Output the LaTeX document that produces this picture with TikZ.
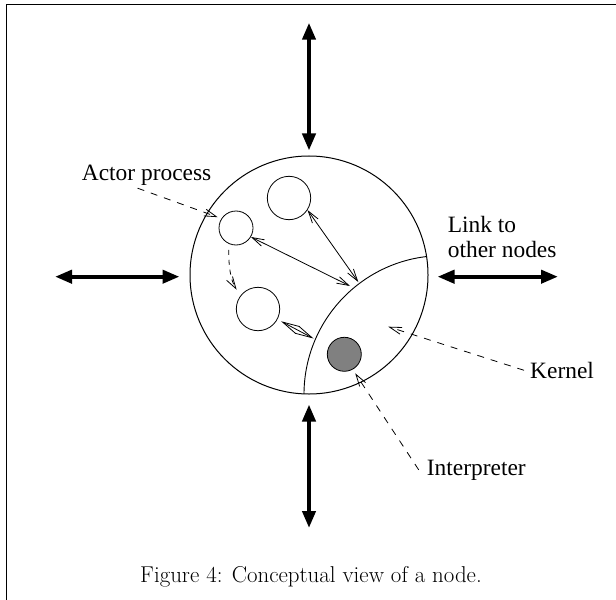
\documentclass[tikz,border=0pt]{standalone}
\usepackage{fontspec}
\newfontfamily\labelfont{Liberation Serif}
\usetikzlibrary{arrows.meta}
\definecolor{kgray}{RGB}{128,128,128}

\begin{document}
\begin{tikzpicture}[x=1bp,y=-1bp,
  link/.style={line width=4bp,
    {Triangle[length=17bp,width=13bp]}-{Triangle[length=17bp,width=13bp]}},
  msg/.style={line width=0.8bp,
    {Straight Barb[length=12bp,width=7bp]}-{Straight Barb[length=12bp,width=7bp]}},
  leader/.style={line width=0.8bp,dash pattern=on 7bp off 7bp,
    -{Straight Barb[length=12bp,width=7bp]}},
  proc/.style={circle,draw,line width=0.8bp,inner sep=0pt},
  lbl/.style={font=\labelfont\fontsize{23.5}{25}\selectfont,inner sep=2bp}
]
\useasboundingbox (0,0) rectangle (616,600);

% open frame: top and left edges
\draw[line width=1.8bp] (6.5,600) -- (6.5,4.5) -- (616,4.5);

% the node and its kernel
\node[proc,line width=1bp,minimum size=238bp] (nd) at (309,275) {};
\begin{scope}
  \clip (309,275) circle[radius=119bp];
  \draw[line width=0.9bp] (442.8,394.4) circle[radius=138.8bp];
\end{scope}

% actor processes and the interpreter
\node[proc,minimum size=34bp]   (a1) at (236,228) {};
\node[proc,minimum size=43.4bp] (a2) at (289,198) {};
\node[proc,minimum size=43.4bp] (a3) at (258,309) {};
\node[proc,minimum size=34bp,fill=kgray] (ip) at (344.3,354.3) {};

% points on the kernel boundary
\coordinate (k1) at (350,286);
\coordinate (k2) at (358.3,282);
\coordinate (k3) at (313.5,338.5);
\coordinate (kp) at (388.3,326.7);

% messages
\draw[msg] (a1.-31) -- (k1);
\draw[msg] (a2.-33) -- (k2);
\draw[line width=0.8bp,shorten <=4bp,
  {Straight Barb[length=17bp,width=8bp]}-{Straight Barb[length=17bp,width=8bp]}]
  (a3.-28) -- (k3);
\draw[line width=0.8bp,dash pattern=on 5bp off 5bp,shorten <=6bp,shorten >=7bp,
  -{Straight Barb[length=12bp,width=7bp]}]
  (a1.-115) .. controls +(0,22) and +(-10,-16) .. (a3.143);

% links to other nodes
\coordinate (tt) at (309,22.7);
\coordinate (bb) at (309,528);
\coordinate (ll) at (55,276.7);
\coordinate (rr) at (558,276.7);
\draw[link,shorten >=5bp] (tt) -- (nd.north);
\draw[link,shorten <=10bp] (nd.south) -- (bb);
\draw[link] (ll) -- ([xshift=-10bp]ll -| nd.west);
\draw[link] ([xshift=9bp]rr -| nd.east) -- (rr);

% labels
\node[lbl,anchor=base west] (actor) at (79.7,181) {Actor process};
\node[lbl,anchor=south west,align=left] (link) at (445.7,260) {Link to\\other nodes};
\node[lbl,anchor=base west] (kern) at (528,378.3) {Kernel};
\node[lbl,anchor=base west] (interp) at (424.7,475) {Interpreter};

\draw[leader,shorten >=4bp] ([xshift=-9bp]actor.south) -- (a1.147);
\draw[leader] ([xshift=-4bp]kern.west) -- (kp);
\draw[leader,shorten >=4.5bp] ([xshift=-6bp]interp.west) -- (ip.-61);

% caption
\node[font=\fontsize{23}{27}\selectfont\addfontfeatures{LetterSpace=5},anchor=base]
  (cap) at (311,582) {Figure 4: Conceptual view of a node.};
\end{tikzpicture}
\end{document}
